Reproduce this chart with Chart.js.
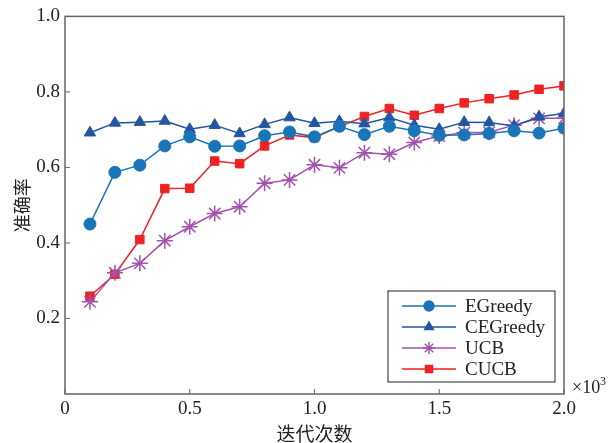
<!DOCTYPE html>
<html>
<head>
<meta charset="utf-8">
<script src="https://cdn.jsdelivr.net/npm/chart.js@4.4.1/dist/chart.umd.min.js"></script>
<style>
  body { margin: 0; background: #fff; }
  #wrap { width: 609px; height: 443px; }
</style>
</head>
<body>
<div id="wrap"><canvas id="chart"></canvas></div>
<script>
// iterations, in units of 10^3
const iterations = [0.1, 0.2, 0.3, 0.4, 0.5, 0.6, 0.7, 0.8, 0.9, 1.0,
                    1.1, 1.2, 1.3, 1.4, 1.5, 1.6, 1.7, 1.8, 1.9, 2.0];

const egreedy  = [0.450, 0.587, 0.606, 0.657, 0.681, 0.656, 0.657, 0.684, 0.694, 0.681,
                  0.709, 0.687, 0.709, 0.697, 0.685, 0.686, 0.690, 0.697, 0.691, 0.704];
const cegreedy = [0.692, 0.718, 0.720, 0.723, 0.701, 0.712, 0.690, 0.714, 0.732, 0.717,
                  0.722, 0.716, 0.732, 0.712, 0.701, 0.720, 0.719, 0.710, 0.734, 0.743];
const ucb      = [0.244, 0.321, 0.346, 0.406, 0.443, 0.478, 0.496, 0.558, 0.567, 0.607,
                  0.599, 0.639, 0.635, 0.666, 0.683, 0.692, 0.693, 0.712, 0.730, 0.730];
const cucb     = [0.259, 0.317, 0.409, 0.544, 0.545, 0.617, 0.610, 0.657, 0.686, 0.679,
                  0.708, 0.735, 0.756, 0.738, 0.756, 0.771, 0.782, 0.792, 0.807, 0.816];

const xTicks = [0, 0.5, 1.0, 1.5, 2.0];
const yTicks = [0.2, 0.4, 0.6, 0.8, 1.0];

const serif = "'Liberation Serif', 'DejaVu Serif', serif";
const cjk = "'Noto Sans CJK SC', sans-serif";
const axisColor = '#666666';

function pts(ys) {
    return iterations.map((x, i) => ({ x: x, y: ys[i] }));
}

const series = [
    { label: 'EGreedy',  data: egreedy,  color: '#1a74b8', style: 'circle',   r: 6 },
    { label: 'CEGreedy', data: cegreedy, color: '#2355a3', style: 'triangle', r: 6.5 },
    { label: 'UCB',      data: ucb,      color: '#a352ad', style: 'star',     r: 8 },
    { label: 'CUCB',     data: cucb,     color: '#ee2222', style: 'rect',     r: 6 }
];

// box, inward ticks, legend and exponent label
const decor = {
    id: 'decor',
    afterDraw(chart) {
        const ctx = chart.ctx;
        const a = chart.chartArea;
        const xs = chart.scales.x, ys = chart.scales.y;
        ctx.save();
        ctx.strokeStyle = axisColor;
        ctx.lineWidth = 1.5;
        ctx.strokeRect(a.left, a.top, a.right - a.left, a.bottom - a.top);
        ctx.lineWidth = 1;
        ctx.beginPath();
        xTicks.forEach(v => {
            const px = xs.getPixelForValue(v);
            ctx.moveTo(px, a.bottom);
            ctx.lineTo(px, a.bottom - 5);
        });
        yTicks.forEach(v => {
            const py = ys.getPixelForValue(v);
            ctx.moveTo(a.left, py);
            ctx.lineTo(a.left + 5, py);
        });
        ctx.stroke();

        // legend
        const lx = 388, ly = 291, lw = 167, lh = 91;
        ctx.fillStyle = '#fff';
        ctx.fillRect(lx, ly, lw, lh);
        ctx.strokeStyle = '#222';
        ctx.lineWidth = 1;
        ctx.strokeRect(lx, ly, lw, lh);
        ctx.font = '19px ' + serif;
        ctx.textBaseline = 'middle';
        ctx.textAlign = 'left';
        series.forEach((s, i) => {
            const y = 306 + i * 21;
            ctx.strokeStyle = s.color;
            ctx.lineWidth = 1.5;
            ctx.beginPath();
            ctx.moveTo(402, y);
            ctx.lineTo(456, y);
            ctx.stroke();
            ctx.fillStyle = s.color;
            Chart.helpers.drawPoint(ctx, {
                pointStyle: s.style, radius: s.style === 'star' ? 6 : 5,
                rotation: 0, borderWidth: 1.5
            }, 429, y);
            ctx.fillStyle = '#222';
            ctx.fillText(s.label, 465, y + 1);
        });

        // x10^3
        ctx.fillStyle = '#222';
        ctx.font = '18px ' + serif;
        ctx.textBaseline = 'alphabetic';
        ctx.fillText('\u00d710', 572, 393);
        ctx.font = '12px ' + serif;
        ctx.fillText('3', 600, 385);
        ctx.restore();
    }
};

new Chart(document.getElementById('chart'), {
    type: 'line',
    data: {
        datasets: series.map(s => ({
            label: s.label,
            data: pts(s.data),
            borderColor: s.color,
            backgroundColor: s.color,
            borderWidth: 1.5,
            pointStyle: s.style,
            pointRadius: s.r,
            pointBorderWidth: s.style === 'star' ? 1.5 : 1,
            pointBorderColor: s.color,
            pointBackgroundColor: s.color,
            tension: 0
        }))
    },
    options: {
        responsive: true,
        maintainAspectRatio: false,
        animation: false,
        layout: { padding: { top: 16, right: 45, left: 0, bottom: 0 } },
        plugins: { legend: { display: false }, tooltip: { enabled: false } },
        scales: {
            x: {
                type: 'linear',
                min: 0, max: 2.0,
                afterBuildTicks: s => { s.ticks = xTicks.map(v => ({ value: v })); },
                afterFit: s => { s.height = 49; },
                grid: { display: false, drawTicks: false },
                border: { display: false },
                ticks: {
                    color: '#222',
                    font: { family: serif, size: 19, lineHeight: 1.0 },
                    padding: 6,
                    maxRotation: 0,
                    callback: v => v === 0 ? '0' : v.toFixed(1)
                },
                title: {
                    display: true, text: '迭代次数', color: '#222',
                    font: { family: cjk, size: 19, lineHeight: 1.0 }, padding: { top: 0, bottom: 0 }
                }
            },
            y: {
                min: 0, max: 1.0,
                afterBuildTicks: s => { s.ticks = yTicks.map(v => ({ value: v })); },
                afterFit: s => { s.width = 65; },
                grid: { display: false, drawTicks: false },
                border: { display: false },
                ticks: {
                    color: '#222',
                    font: { family: serif, size: 19 },
                    padding: 5,
                    callback: v => v.toFixed(1)
                },
                title: {
                    display: true, text: '准确率', color: '#222',
                    font: { family: cjk, size: 18, lineHeight: 1.2 }, padding: { top: 11, bottom: 0 }
                }
            }
        }
    },
    plugins: [decor]
});
</script>
</body>
</html>
